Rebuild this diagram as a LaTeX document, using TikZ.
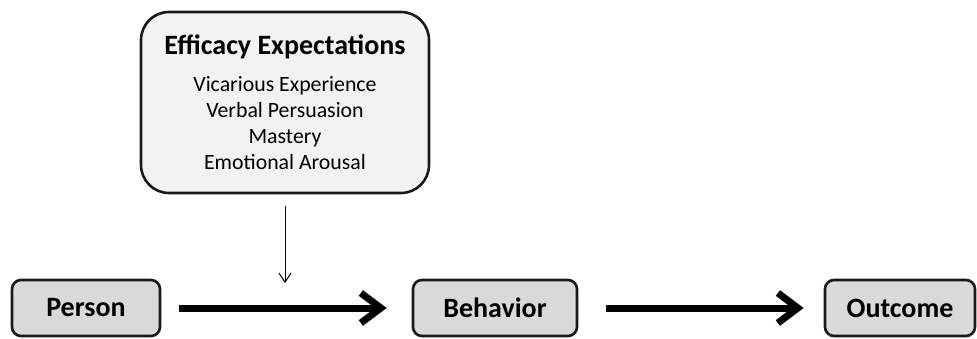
\documentclass[tikz,border=0pt]{standalone}
\usepackage{fontspec}
\setmainfont{Carlito}
\usepackage{tikz}
\usetikzlibrary{arrows.meta}
\definecolor{boxgray}{RGB}{217,217,217}
\definecolor{panelgray}{RGB}{242,242,242}

\begin{document}
\begin{tikzpicture}[x=1pt,y=-1pt,
  stage/.style={draw=black!90,line width=2.6pt,fill=boxgray,rounded corners=9pt,
    minimum width=150pt,minimum height=56pt,font=\fontsize{28}{28}\selectfont\bfseries},
  panel/.style={draw=black!90,line width=2.6pt,fill=panelgray,rounded corners=28pt,
    minimum width=288pt,minimum height=181pt,align=center,font=\fontsize{21.8}{26}\selectfont},
  bigarrow/.style={line width=7pt,-{Straight Barb[length=20pt,width=30pt]}},
  thinarrow/.style={line width=1pt,-{Straight Barb[length=9pt,width=12pt]}}]
  \useasboundingbox (0,0) rectangle (977,338);
  \node[panel] (eff) at (285,102.5) {{\fontsize{28}{28}\selectfont\bfseries Efficacy Expectations}\\[11pt]
    Vicarious Experience\\ Verbal Persuasion\\ Mastery\\ Emotional Arousal};
  \node[stage,minimum width=148pt] (person) at (86,308) {Person};
  \node[stage,minimum width=164pt] (behav) at (495,308) {Behavior};
  \node[stage] (out) at (900,308) {Outcome};
  \coordinate (join) at (285,283);
  \draw[thinarrow,shorten <=12pt] (eff) -- (join);
  \draw[bigarrow,shorten <=18pt,shorten >=25pt] (person) -- (behav);
  \draw[bigarrow,shorten <=28pt,shorten >=20pt] (behav) -- (out);

\end{tikzpicture}
\end{document}
